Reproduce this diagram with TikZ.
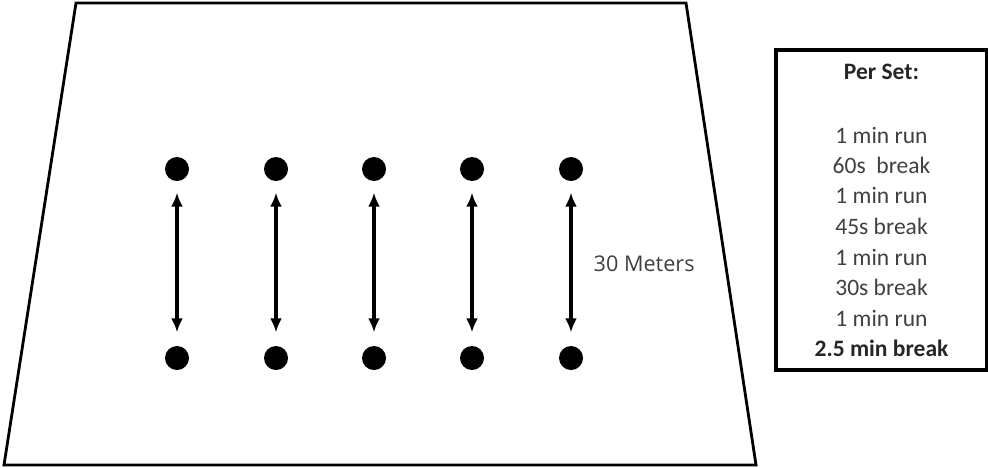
\documentclass[tikz,border=0pt]{standalone}
\usepackage{fontspec}
\setmainfont{Carlito}
\newfontfamily\metersfont{Open Sans}
\usetikzlibrary{arrows.meta}
\definecolor{txtgray}{HTML}{404040}
\tikzset{
  cone/.style={circle,fill=black,inner sep=0pt,minimum size=0.24cm},
  runline/.style={line width=0.95pt,{Latex[length=1.4mm,width=1.2mm]}-{Latex[length=1.4mm,width=1.2mm]},shorten <=0.11cm,shorten >=0.13cm},
  setline/.style={inner sep=0pt,text=txtgray,font=\fontsize{6.7}{8}\selectfont}
}
\begin{document}
\begin{tikzpicture}
\useasboundingbox (0,0) rectangle (9.88,4.67);
%\draw[step=0.5cm,gray,very thin] (0,0) grid (9.88,4.67);
% field
\draw[line width=0.8pt,line join=miter] (0.76,4.64)--(6.86,4.64)--(7.56,0.02)--(0.04,0.02)--cycle;
% cones
\node[cone] (a1) at (1.77,2.98) {};
\node[cone] (b1) at (2.76,2.98) {};
\node[cone] (c1) at (3.74,2.98) {};
\node[cone] (d1) at (4.72,2.98) {};
\node[cone] (e1) at (5.71,2.98) {};
\node[cone] (a2) at (1.77,1.09) {};
\node[cone] (b2) at (2.76,1.09) {};
\node[cone] (c2) at (3.74,1.09) {};
\node[cone] (d2) at (4.72,1.09) {};
\node[cone] (e2) at (5.71,1.09) {};
\draw[runline] (a1) -- (a2);
\draw[runline] (b1) -- (b2);
\draw[runline] (c1) -- (c2);
\draw[runline] (d1) -- (d2);
\draw[runline] (e1) -- (e2);
\node[anchor=west,inner sep=0pt,text=txtgray,font=\metersfont\fontsize{6.15}{7}\selectfont] (dist) at (5.93,2.03) {30 Meters};
% set box
\draw[line width=0.9pt] (7.76,0.97) rectangle (9.865,4.17);
\node[setline,text=black!85,font=\bfseries\fontsize{6.7}{8}\selectfont] (head) at (8.815,3.95) {Per Set:};
\node[setline] (l1) at (8.815,3.32) {1 min run};
\node[setline] (l2) at (8.815,3.02) {60s\ \ break};
\node[setline] (l3) at (8.815,2.72) {1 min run};
\node[setline] (l4) at (8.815,2.41) {45s break};
\node[setline] (l5) at (8.815,2.10) {1 min run};
\node[setline] (l6) at (8.815,1.80) {30s break};
\node[setline] (l7) at (8.815,1.49) {1 min run};
\node[setline,text=black!85,font=\bfseries\fontsize{6.7}{8}\selectfont] (l8) at (8.815,1.19) {2.5 min break};
\end{tikzpicture}
\end{document}
